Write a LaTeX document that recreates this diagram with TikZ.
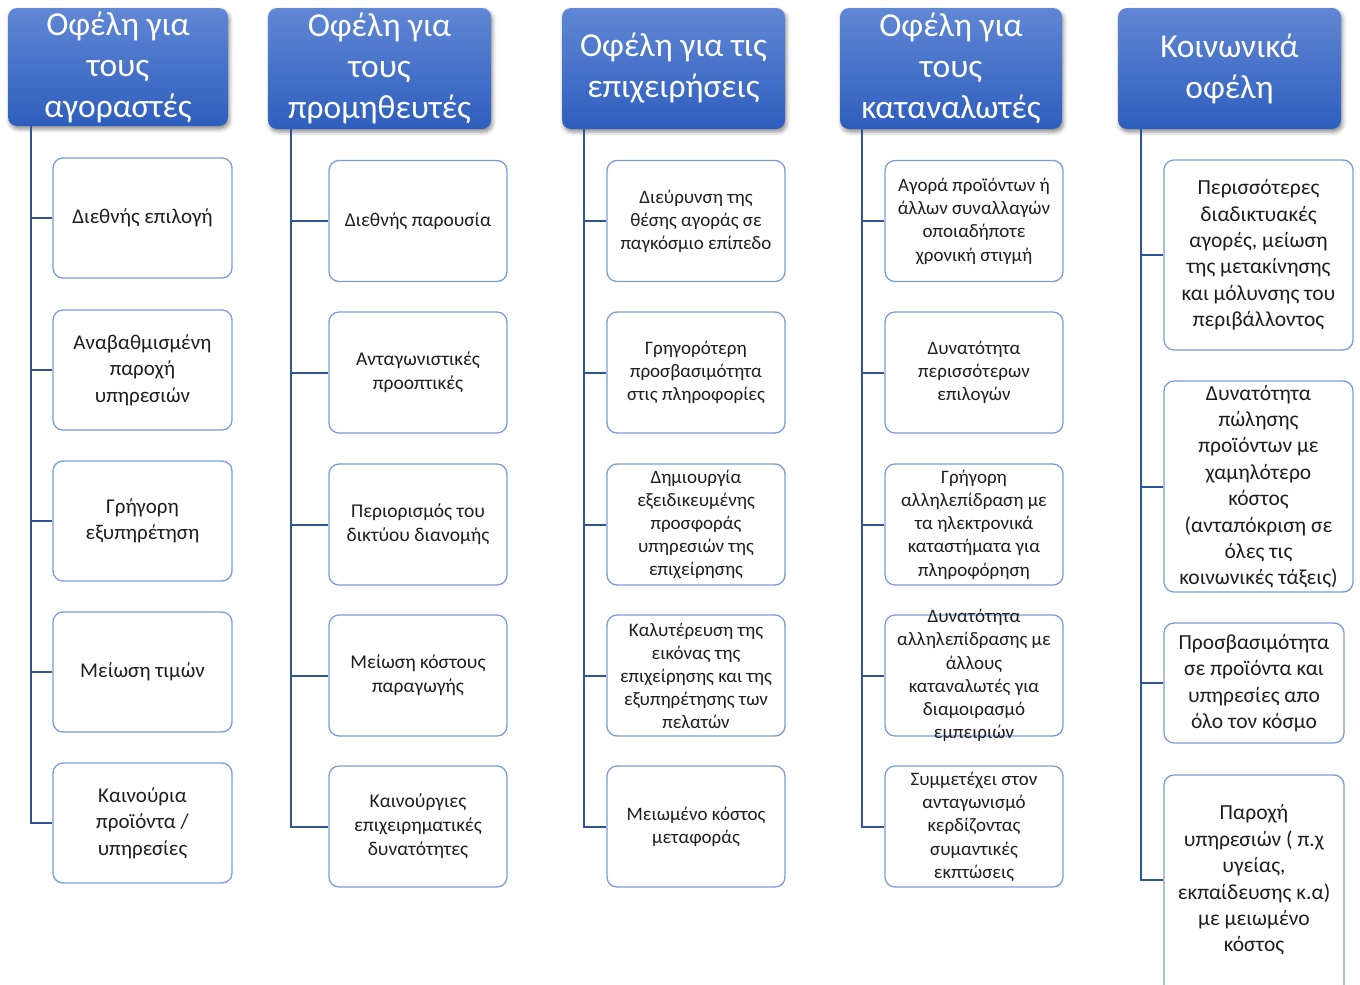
\documentclass[tikz,border=0pt]{standalone}
\usepackage{fontspec}
\setmainfont{Carlito}
\usetikzlibrary{shadows.blur}
\definecolor{hdtop}{RGB}{96,135,212}
\definecolor{hdbot}{RGB}{46,94,189}
\definecolor{boxline}{RGB}{122,156,216}
\definecolor{conncol}{RGB}{47,85,151}
\definecolor{txt}{RGB}{30,30,30}
\tikzset{
  header/.style={rounded corners=9pt, top color=hdtop, bottom color=hdbot, draw=none,
    blur shadow={shadow xshift=1.5pt, shadow yshift=-3pt, shadow blur radius=4pt, shadow opacity=45},
    text=white, align=center, inner sep=0pt, font=\fontsize{33.5}{41}\selectfont},
  childbox/.style={rounded corners=10pt, draw=boxline, line width=1.3pt, fill=white, inner sep=0pt},
  ctext/.style={align=center, inner sep=0pt, text=txt},
  fa/.style={font=\fontsize{21}{26.5}\selectfont},
  fb/.style={font=\fontsize{19.5}{24}\selectfont},
  fc/.style={font=\fontsize{19}{23}\selectfont},
  fd/.style={font=\fontsize{19}{23.3}\selectfont},
  fe/.style={font=\fontsize{21.5}{26.4}\selectfont},
  conn/.style={draw=conncol, line width=2pt},
}
\begin{document}
\begin{tikzpicture}[x=1pt,y=-1pt]
\useasboundingbox (0,0) rectangle (1360,985);
\begin{scope}
\clip (0,0) rectangle (1360,985);
% headers
\node[header, minimum width=220pt, minimum height=118pt] (h1) at (118,67) {Οφέλη για\\τους\\αγοραστές};
\node[header, minimum width=223pt, minimum height=121pt] (h2) at (379.5,68.5) {Οφέλη για\\τους\\προμηθευτές};
\node[header, minimum width=223pt, minimum height=121pt] (h3) at (673.5,68.5) {Οφέλη για τις\\επιχειρήσεις};
\node[header, minimum width=222pt, minimum height=121pt] (h4) at (951,68.5) {Οφέλη για\\τους\\καταναλωτές};
\node[header, minimum width=223pt, minimum height=121pt] (h5) at (1229.5,68.5) {Κοινωνικά\\οφέλη};

% trunk start points
\coordinate (s1) at (31,126);
\coordinate (s2) at (291,129);
\coordinate (s3) at (584,129);
\coordinate (s4) at (862,129);
\coordinate (s5) at (1141,129);

% column 1
\foreach \n/\y in {1/218,2/370,3/521,4/672,5/823}
  \node[childbox, minimum width=179pt, minimum height=120pt] (c1\n) at (142.5,\y) {};
\node[ctext,fa] (t11) at (c11) {Διεθνής επιλογή};
\node[ctext,fa] (t12) at (c12) {Αναβαθμισμένη\\παροχή\\υπηρεσιών};
\node[ctext,fa] (t13) at (c13) {Γρήγορη\\εξυπηρέτηση};
\node[ctext,fa] (t14) at (c14) {Μείωση τιμών};
\node[ctext,fa] (t15) at (c15) {Καινούρια\\προϊόντα /\\υπηρεσίες};

% column 2
\foreach \n/\y in {1/221,2/372.5,3/524.5,4/675.5,5/826.5}
  \node[childbox, minimum width=178pt, minimum height=121pt] (c2\n) at (418,\y) {};
\node[ctext,fb] (t21) at (c21) {Διεθνής παρουσία};
\node[ctext,fb] (t22) at (c22) {Ανταγωνιστικές\\προοπτικές};
\node[ctext,fb] (t23) at (c23) {Περιορισμός του\\δικτύου διανομής};
\node[ctext,fb] (t24) at (c24) {Μείωση κόστους\\παραγωγής};
\node[ctext,fb] (t25) at (c25) {Καινούργιες\\επιχειρηματικές\\δυνατότητες};

% column 3
\foreach \n/\y in {1/221,2/372.5,3/524.5,4/675.5,5/826.5}
  \node[childbox, minimum width=178pt, minimum height=121pt] (c3\n) at (696,\y) {};
\node[ctext,fc] (t31) at (c31) {Διεύρυνση της\\θέσης αγοράς σε\\παγκόσμιο επίπεδο};
\node[ctext,fc] (t32) at (c32) {Γρηγορότερη\\προσβασιμότητα\\στις πληροφορίες};
\node[ctext,fc] (t33) at (c33) {Δημιουργία\\εξειδικευμένης\\προσφοράς\\υπηρεσιών της\\επιχείρησης};
\node[ctext,fc] (t34) at (c34) {Καλυτέρευση της\\εικόνας της\\επιχείρησης και της\\εξυπηρέτησης των\\πελατών};
\node[ctext,fc] (t35) at (c35) {Μειωμένο κόστος\\μεταφοράς};

% column 4
\foreach \n/\y in {1/221,2/372.5,3/524.5,4/675.5,5/826.5}
  \node[childbox, minimum width=178pt, minimum height=121pt] (c4\n) at (974,\y) {};
\node[ctext,fd] (t41) at (c41) {Αγορά προϊόντων ή\\άλλων συναλλαγών\\οποιαδήποτε\\χρονική στιγμή};
\node[ctext,fd] (t42) at (c42) {Δυνατότητα\\περισσότερων\\επιλογών};
\node[ctext,fd] (t43) at (c43) {Γρήγορη\\αλληλεπίδραση με\\τα ηλεκτρονικά\\καταστήματα για\\πληροφόρηση};
\node[ctext,fd] (t44) at (c44) {Δυνατότητα\\αλληλεπίδρασης με\\άλλους\\καταναλωτές για\\διαμοιρασμό\\εμπειριών};
\node[ctext,fd] (t45) at (c45) {Συμμετέχει στον\\ανταγωνισμό\\κερδίζοντας\\συμαντικές\\εκπτώσεις};

% column 5
\node[childbox, minimum width=189pt, minimum height=190pt] (c51) at (1258.5,255) {};
\node[childbox, minimum width=189pt, minimum height=211pt] (c52) at (1258.5,486.5) {};
\node[childbox, minimum width=180pt, minimum height=120pt] (c53) at (1254,683) {};
\node[childbox, minimum width=180pt, minimum height=225pt] (c54) at (1254,887.5) {};
\node[ctext,fe] (t51) at (c51) {Περισσότερες\\διαδικτυακές\\αγορές, μείωση\\της μετακίνησης\\και μόλυνσης του\\περιβάλλοντος};
\node[ctext,fe] (t52) at (c52) {Δυνατότητα\\πώλησης\\προϊόντων με\\χαμηλότερο\\κόστος\\(ανταπόκριση σε\\όλες τις\\κοινωνικές τάξεις)};
\node[ctext,fe] (t53) at (c53) {Προσβασιμότητα\\σε προϊόντα και\\υπηρεσίες απο\\όλο τον κόσμο};
\node[ctext,fe] (t54) at (1254,880) {Παροχή\\υπηρεσιών ( π.χ\\υγείας,\\εκπαίδευσης κ.α)\\με μειωμένο\\κόστος};
\coordinate (e54) at (c54.west |- t54);

% connectors
\draw[conn] (s1) |- (c15.west);
\foreach \n in {1,2,3,4} \draw[conn] (c1\n.west) -- (c1\n.west -| s1);
\draw[conn] (s2) |- (c25.west);
\foreach \n in {1,2,3,4} \draw[conn] (c2\n.west) -- (c2\n.west -| s2);
\draw[conn] (s3) |- (c35.west);
\foreach \n in {1,2,3,4} \draw[conn] (c3\n.west) -- (c3\n.west -| s3);
\draw[conn] (s4) |- (c45.west);
\foreach \n in {1,2,3,4} \draw[conn] (c4\n.west) -- (c4\n.west -| s4);
\draw[conn] (s5) |- (e54);
\foreach \n in {1,2,3} \draw[conn] (c5\n.west) -- (c5\n.west -| s5);
\end{scope}
\end{tikzpicture}
\end{document}
